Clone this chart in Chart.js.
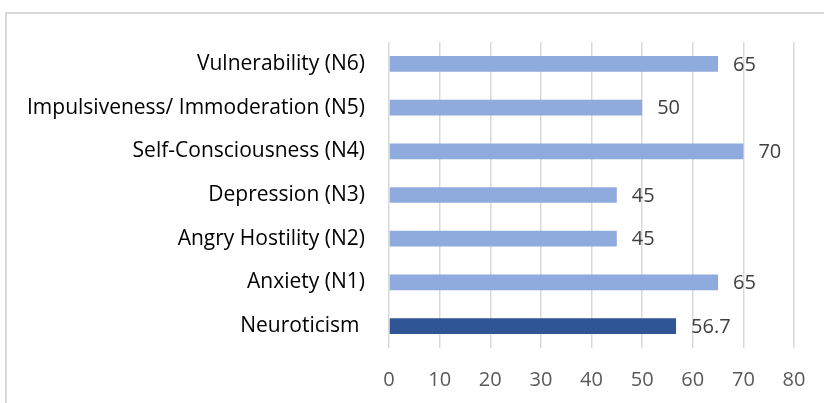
<!DOCTYPE html>
<html>
<head>
<meta charset="utf-8">
<script src="https://cdn.jsdelivr.net/npm/chart.js@4"></script>
<style>
  html, body { margin: 0; padding: 0; background: #fff; }
  #wrap { position: relative; width: 824px; height: 403px; overflow: hidden; }
  #frame { position: absolute; left: 5px; top: 12px; width: 900px; height: 500px;
           border-left: 2px solid #d9d9d9; border-top: 2px solid #d9d9d9; }
  canvas { position: absolute; left: 0; top: 0; }
</style>
</head>
<body>
<div id="wrap">
  <div id="frame"></div>
  <canvas id="statsChart" width="824" height="403"></canvas>
</div>
<script>
const categories = [
  'Vulnerability (N6)',
  'Impulsiveness/ Immoderation (N5)',
  'Self-Consciousness (N4)',
  'Depression (N3)',
  'Angry Hostility (N2)',
  'Anxiety (N1)',
  'Neuroticism '
];
const scores = [65, 50, 70, 45, 45, 65, 56.7];
const barColors = ['#8faadc', '#8faadc', '#8faadc', '#8faadc', '#8faadc', '#8faadc', '#2f5597'];
const xTicks = [0, 10, 20, 30, 40, 50, 60, 70, 80];

// draw the value next to each bar end
const valueLabels = {
  id: 'valueLabels',
  afterDatasetsDraw(chart) {
    const ctx = chart.ctx;
    const meta = chart.getDatasetMeta(0);
    ctx.save();
    ctx.font = '20px "Open Sans"';
    ctx.fillStyle = '#404040';
    ctx.textAlign = 'left';
    ctx.textBaseline = 'middle';
    meta.data.forEach(function (bar, i) {
      ctx.fillText(String(scores[i]), bar.x + 15, bar.y + 1);
    });
    ctx.restore();
  }
};

document.addEventListener("DOMContentLoaded", function () {
  const ctx = document.getElementById('statsChart');
  new Chart(ctx, {
    type: 'bar',
    data: {
      labels: categories,
      datasets: [{
        data: scores,
        backgroundColor: barColors,
        categoryPercentage: 1,
        barPercentage: 0.36
      }]
    },
    options: {
      indexAxis: 'y',
      responsive: false,
      animation: false,
      layout: { padding: { top: 42, right: 30, left: 0, bottom: 0 } },
      scales: {
        x: {
          min: 0,
          max: 80,
          afterBuildTicks: function (scale) {
            scale.ticks = xTicks.map(v => ({ value: v }));
          },
          afterFit: function (scale) {
            scale.height = 55;
            scale.paddingLeft = 0;
            scale.paddingRight = 0;
          },
          border: { display: false },
          grid: { color: '#d9d9d9', lineWidth: 1.5, drawTicks: false },
          ticks: { padding: 20, color: '#595959', font: { family: 'Open Sans', size: 20 } }
        },
        y: {
          afterFit: function (scale) { scale.width = 389; },
          border: { display: false },
          grid: { display: false, drawTicks: false },
          ticks: { padding: 24, color: '#000', font: { family: 'Open Sans', size: 21 } }
        }
      },
      plugins: {
        legend: { display: false },
        tooltip: { enabled: false }
      }
    },
    plugins: [valueLabels]
  });
});
</script>
</body>
</html>
